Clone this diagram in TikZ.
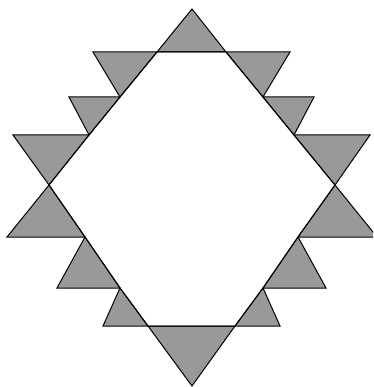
\documentclass[tikz,border=0pt]{standalone}
\definecolor{tri}{RGB}{153,153,153}
\begin{document}
\begin{tikzpicture}[x=1pt,y=-1pt,
  tribox/.style={fill=tri,draw=black,line width=1pt,line join=miter},
  hexline/.style={draw=black,line width=1pt}]
\useasboundingbox (0,0) rectangle (373,387);
\begin{scope}
\clip (0,0) rectangle (373,387);
% hexagon vertices and edge points
\coordinate (H1) at (157,52);
\coordinate (H2) at (226,52);
\coordinate (R1) at (263,97);
\coordinate (R2) at (294,135);
\coordinate (R)  at (335,185);
\coordinate (R3) at (298,237);
\coordinate (R4) at (263,288);
\coordinate (H3) at (235,326);
\coordinate (H4) at (148,326);
\coordinate (L4) at (120,288);
\coordinate (L3) at (85,237);
\coordinate (L)  at (49,185);
\coordinate (L2) at (89,135);
\coordinate (L1) at (120,97);
% outer tips
\coordinate (T)   at (192,9);
\coordinate (B)   at (192,386);
\coordinate (UR1) at (290,52);
\coordinate (UR2) at (314,97);
\coordinate (UR3) at (370,135);
\coordinate (LR1) at (377,237);
\coordinate (LR2) at (326,288);
\coordinate (LR3) at (280,326);
\coordinate (LL3) at (103,326);
\coordinate (LL2) at (57,288);
\coordinate (LL1) at (7,237);
\coordinate (UL3) at (13,135);
\coordinate (UL2) at (69,97);
\coordinate (UL1) at (93,52);
% triangles
\path[tribox] (H1) -- (H2) -- (T) -- cycle;
\path[tribox] (H2) -- (R1) -- (UR1) -- cycle;
\path[tribox] (R1) -- (R2) -- (UR2) -- cycle;
\path[tribox] (R2) -- (R) -- (UR3) -- cycle;
\path[tribox] (R) -- (R3) -- (LR1) -- cycle;
\path[tribox] (R3) -- (R4) -- (LR2) -- cycle;
\path[tribox] (R4) -- (H3) -- (LR3) -- cycle;
\path[tribox] (H3) -- (H4) -- (B) -- cycle;
\path[tribox] (H4) -- (L4) -- (LL3) -- cycle;
\path[tribox] (L4) -- (L3) -- (LL2) -- cycle;
\path[tribox] (L3) -- (L) -- (LL1) -- cycle;
\path[tribox] (L) -- (L2) -- (UL3) -- cycle;
\path[tribox] (L2) -- (L1) -- (UL2) -- cycle;
\path[tribox] (L1) -- (H1) -- (UL1) -- cycle;
% hexagon outline
\path[hexline] (H1) -- (H2) -- (R1) -- (R2) -- (R) -- (R3) -- (R4) -- (H3)
  -- (H4) -- (L4) -- (L3) -- (L) -- (L2) -- (L1) -- cycle;
\end{scope}
\end{tikzpicture}
\end{document}
